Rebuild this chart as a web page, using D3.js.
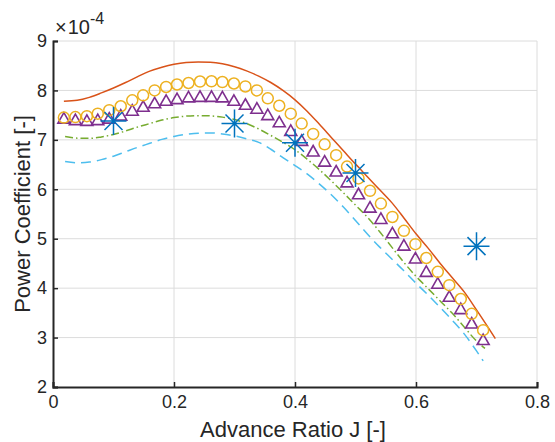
<!DOCTYPE html>
<html>
<head>
<meta charset="utf-8">
<script src="https://cdn.jsdelivr.net/npm/d3@7"></script>
<style>
  html, body { margin: 0; padding: 0; background: #fff; }
  svg { display: block; font-family: "Liberation Sans", Arial, Helvetica, sans-serif; }
</style>
</head>
<body>
<svg id="chart" width="555" height="442"></svg>
<script>
// ---- Data (Power coefficient in units of 1e-4) ----
const xTicks = [0, 0.2, 0.4, 0.6, 0.8];
const yTicks = [2, 3, 4, 5, 6, 7, 8, 9];
const xLabel = "Advance Ratio J [-]";
const yLabel = "Power Coefficient [-]";

// solid orange line
const orangeJ  = [0.018,0.04,0.06,0.08,0.10,0.12,0.14,0.16,0.18,0.20,0.22,0.24,0.26,0.28,0.30,0.32,0.34,0.36,0.38,0.40,0.42,0.44,0.46,0.48,0.50,0.52,0.54,0.56,0.58,0.60,0.62,0.64,0.66,0.68,0.70,0.72,0.731];
const orangeCp = [7.78,7.80,7.86,7.95,8.05,8.16,8.28,8.39,8.47,8.53,8.565,8.575,8.57,8.54,8.48,8.395,8.29,8.16,8.00,7.81,7.58,7.32,7.05,6.78,6.51,6.25,5.99,5.73,5.42,5.10,4.81,4.50,4.21,3.92,3.56,3.19,2.98];

// marker series (circles and triangles share J)
const markerJ   = [0.018,0.037,0.056,0.074,0.093,0.112,0.131,0.149,0.168,0.187,0.205,0.224,0.243,0.262,0.28,0.299,0.318,0.337,0.355,0.374,0.393,0.411,0.43,0.449,0.468,0.486,0.505,0.524,0.542,0.561,0.58,0.599,0.617,0.636,0.655,0.674,0.692,0.711];
const circleCp  = [7.45,7.46,7.48,7.53,7.60,7.68,7.80,7.90,8.00,8.07,8.12,8.15,8.18,8.185,8.17,8.14,8.08,8.00,7.84,7.69,7.53,7.33,7.12,6.91,6.69,6.46,6.22,5.97,5.71,5.44,5.16,4.89,4.61,4.33,4.06,3.78,3.48,3.15];
const triangleCp= [7.44,7.41,7.395,7.41,7.44,7.50,7.60,7.68,7.75,7.80,7.835,7.87,7.88,7.88,7.87,7.80,7.72,7.64,7.51,7.365,7.19,6.99,6.775,6.57,6.37,6.15,5.91,5.64,5.41,5.12,4.87,4.61,4.34,4.10,3.835,3.585,3.295,2.96];

// green dash-dot line
const greenJ  = [0.02,0.04,0.06,0.08,0.10,0.12,0.14,0.16,0.18,0.20,0.22,0.24,0.26,0.28,0.30,0.32,0.34,0.36,0.38,0.40,0.42,0.44,0.46,0.48,0.50,0.52,0.54,0.56,0.58,0.60,0.62,0.64,0.66,0.68,0.70,0.714];
const greenCp = [7.07,7.035,7.03,7.06,7.11,7.18,7.26,7.33,7.40,7.45,7.48,7.49,7.485,7.46,7.41,7.33,7.22,7.09,6.95,6.80,6.61,6.40,6.17,5.93,5.68,5.43,5.14,4.83,4.52,4.24,3.99,3.74,3.49,3.21,2.93,2.78];

// light-blue dashed line
const blueJ  = [0.02,0.04,0.06,0.08,0.10,0.12,0.14,0.16,0.18,0.20,0.22,0.24,0.26,0.28,0.30,0.32,0.34,0.36,0.38,0.40,0.42,0.44,0.46,0.48,0.50,0.52,0.54,0.56,0.58,0.60,0.62,0.64,0.66,0.68,0.70,0.711];
const blueCp = [6.56,6.535,6.55,6.60,6.67,6.76,6.85,6.93,7.01,7.07,7.11,7.135,7.14,7.12,7.08,7.02,6.95,6.81,6.64,6.48,6.31,6.11,5.89,5.64,5.37,5.09,4.83,4.59,4.35,4.10,3.86,3.61,3.35,3.07,2.73,2.53];

// star markers (experiment)
const starJ  = [0.1, 0.3, 0.4, 0.5, 0.7];
const starCp = [7.38, 7.33, 6.94, 6.33, 4.85];

// ---- Layout ----
const svg = d3.select("#chart");
const L = 53, R = 537, T = 41, B = 387;
const x = d3.scaleLinear().domain([0, 0.8]).range([L, R]);
const y = d3.scaleLinear().domain([2, 9]).range([B, T]);
const axisColor = "#262626";
const gridColor = "#dcdcdc";

// grid
const grid = svg.append("g");
grid.selectAll(".gx").data(xTicks.filter(d => d > 0)).enter().append("line")
  .attr("x1", d => x(d)).attr("x2", d => x(d)).attr("y1", T).attr("y2", B)
  .attr("stroke", gridColor).attr("stroke-width", 1);
grid.selectAll(".gy").data(yTicks.filter(d => d > 2)).enter().append("line")
  .attr("x1", L).attr("x2", R).attr("y1", d => y(d)).attr("y2", d => y(d))
  .attr("stroke", gridColor).attr("stroke-width", 1);

// axes
const xAxis = svg.append("g").attr("transform", `translate(0,${B})`)
  .call(d3.axisBottom(x).tickValues(xTicks).tickSize(-5).tickPadding(8).tickFormat(d => d === 0 ? "0" : d3.format(".1f")(d)));
const yAxis = svg.append("g").attr("transform", `translate(${L},0)`)
  .call(d3.axisLeft(y).tickValues(yTicks).tickSize(-5).tickPadding(6).tickFormat(d3.format("d")));
[xAxis, yAxis].forEach(g => {
  g.select(".domain").attr("stroke", axisColor).attr("stroke-width", 2);
  g.selectAll(".tick line").attr("stroke", axisColor).attr("stroke-width", 1.5);
  g.selectAll(".tick text").attr("fill", axisColor).style("font-size", "18px");
});

// exponent label
const ex = svg.append("text").attr("x", 55).attr("y", 34).attr("fill", axisColor)
  .style("font-size", "20px");
ex.append("tspan").text("\u00D7");
ex.append("tspan").attr("dx", 1).text("10");
ex.append("tspan").attr("dy", -10).style("font-size", "16px").text("-4");

// axis labels
svg.append("text").attr("x", (L + R) / 2 - 2).attr("y", 437).attr("text-anchor", "middle")
  .attr("fill", axisColor).style("font-size", "22px").text(xLabel);
svg.append("text").attr("transform", `translate(30,${(T + B) / 2}) rotate(-90)`).attr("text-anchor", "middle")
  .attr("fill", axisColor).style("font-size", "22px").text(yLabel);

// lines
const line = d3.line().x(d => x(d[0])).y(d => y(d[1])).curve(d3.curveMonotoneX);
const plot = svg.append("g");

plot.append("path").datum(blueJ.map((j, i) => [j, blueCp[i]]))
  .attr("d", line).attr("fill", "none").attr("stroke", "#4DBEEE").attr("stroke-width", 1.5)
  .attr("stroke-dasharray", "10,6");
plot.append("path").datum(greenJ.map((j, i) => [j, greenCp[i]]))
  .attr("d", line).attr("fill", "none").attr("stroke", "#77AC30").attr("stroke-width", 1.5)
  .attr("stroke-dasharray", "8,3,1.5,3");
plot.append("path").datum(orangeJ.map((j, i) => [j, orangeCp[i]]))
  .attr("d", line).attr("fill", "none").attr("stroke", "#D95319").attr("stroke-width", 1.5);

// triangles (wide bases touching where the curve is flat)
const triData = markerJ.map((j, i) => [j, triangleCp[i]]);
plot.selectAll(".tri").data(triData).enter().append("path")
  .attr("transform", d => `translate(${x(d[0])},${y(d[1])})`)
  .attr("d", "M0,-5.5L6,5L-6,5Z")
  .attr("fill", "none").attr("stroke", "#7E2F8E").attr("stroke-width", 1.6)
  .attr("stroke-linejoin", "miter");

// circles
plot.selectAll(".circ").data(markerJ.map((j, i) => [j, circleCp[i]])).enter().append("circle")
  .attr("cx", d => x(d[0])).attr("cy", d => y(d[1])).attr("r", 5.5)
  .attr("fill", "none").attr("stroke", "#EDB120").attr("stroke-width", 1.5);

// stars
plot.selectAll(".star").data(starJ.map((j, i) => [j, starCp[i]])).enter().append("path")
  .attr("transform", d => `translate(${x(d[0])},${y(d[1])})`)
  .attr("d", "M-13,0H13M0,-14V14M-9,-9L9,9M-9,9L9,-9")
  .attr("fill", "none").attr("stroke", "#0072BD").attr("stroke-width", 1.5);
</script>
</body>
</html>
